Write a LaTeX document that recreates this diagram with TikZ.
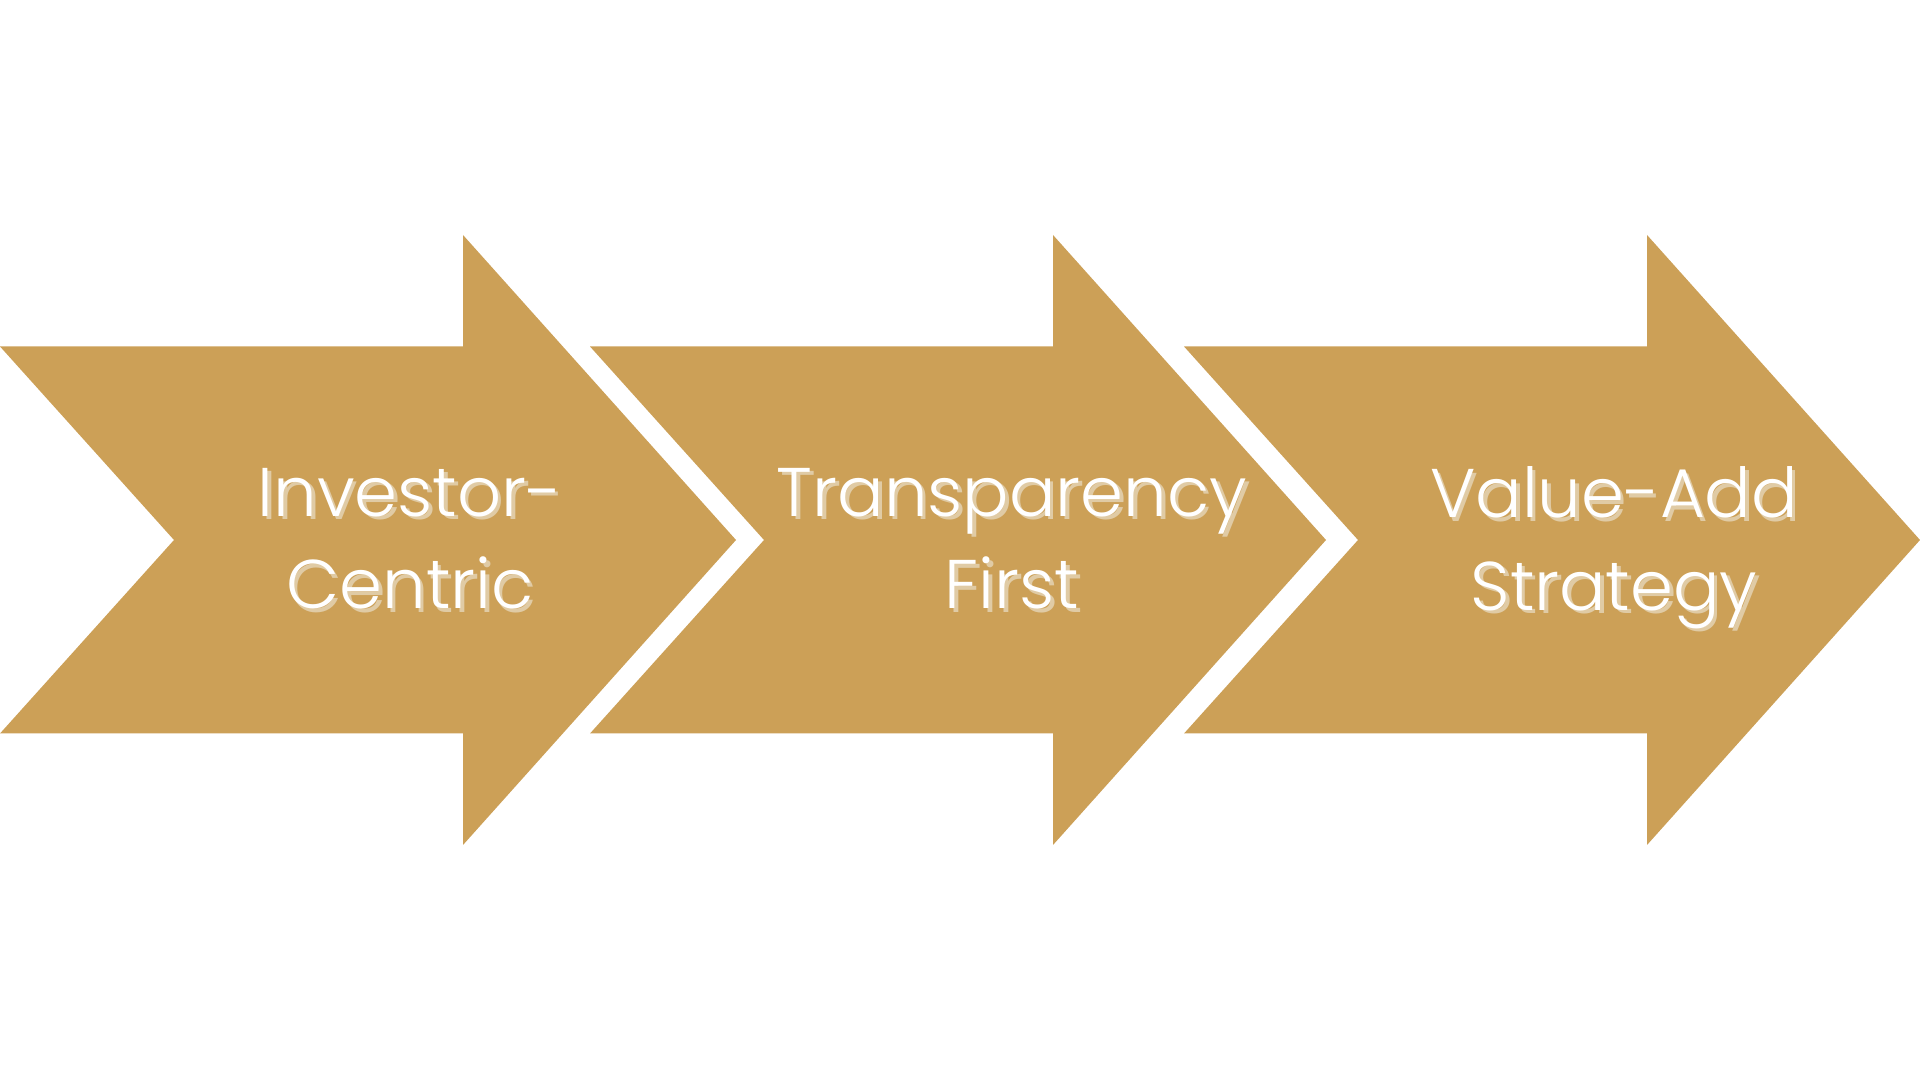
\documentclass[tikz,border=0pt]{standalone}
\usepackage{fontspec}
\setmainfont{Poppins}[UprightFont=* Light]
\usetikzlibrary{positioning}
\definecolor{gold}{RGB}{204,160,87}
\definecolor{shade}{RGB}{224,203,165}

\begin{document}
\begin{tikzpicture}
    \tikzstyle{word} = [text=white, align=center, inner sep=0pt, text depth=0pt, font=\fontsize{19.6}{26.3}\selectfont]
    \tikzstyle{echo} = [word, text=shade]
    \useasboundingbox (0,0) rectangle (19.2,10.8);
    % three chevron arrows
    \foreach \x in {0, 5.90, 11.84}
        \fill[gold] (\x,7.335) -- (\x+4.63,7.335) -- (\x+4.63,8.45) -- (\x+7.36,5.4)
            -- (\x+4.63,2.35) -- (\x+4.63,3.465) -- (\x,3.465) -- (\x+1.74,5.4) -- cycle;
    \node [echo] at (4.135,5.38) (inv-sh) {Investor-\\Centric};
    \node [word] at ([xshift=-0.35mm, yshift=0.35mm]inv-sh.center) (inv) {Investor-\\Centric};
    \node [echo] at (10.155,5.38) (tra-sh) {Transparency\\First};
    \node [word] at ([xshift=-0.35mm, yshift=0.35mm]tra-sh.center) (tra) {Transparency\\First};
    \node [echo] at (16.175,5.38) (val-sh) {Value-Add\\Strategy};
    \node [word] at ([xshift=-0.35mm, yshift=0.35mm]val-sh.center) (val) {Value-Add\\Strategy};
\end{tikzpicture}
\end{document}
